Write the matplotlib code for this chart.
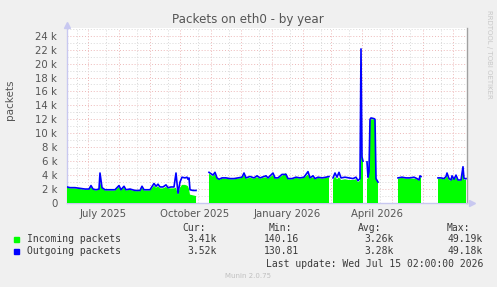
import numpy as np
import pandas as pd
import matplotlib
matplotlib.use('Agg')
from matplotlib import pyplot as plt

nan = np.nan

# days since start of the 400 day window, NaN rows mark gaps with no data
start = pd.Timestamp('2025-06-10 02:00')
end = pd.Timestamp('2026-07-15 02:00')

day = [0, 3, 8, 13, 18, 22, 24, 26, 29, 32, 33, 35, 38, 43, 48, 52, 54, 57, 59, 63,
       68, 73, 75, 77, 83, 87, 89, 91, 93, 96, 99, 101, 104, 107, 109, 111, 113, 115,
       118, 120, 121, 122, 123, 126, 129, 135,
       142, 144, 146, 148, 150, 152, 155, 159, 163, 167, 171, 175, 177, 179, 183, 187,
       190, 193, 199, 201, 206, 208, 211, 215, 219, 221, 225, 229, 233, 237, 241, 243,
       246, 248, 251, 255, 259, 262, 264,
       266, 268, 270, 272, 274, 278, 282, 286, 289, 291, 293, 294, 295, 296, 298,
       300, 301, 302, 303, 304, 307, 308, 309, 311, 320,
       331, 335, 339, 343, 347, 350, 352, 353, 354, 362,
       371, 374, 377, 379, 380, 382, 384, 385, 387, 389, 391, 394, 396, 397, 399]

outgoing = [2.3, 2.2, 2.2, 2.1, 2.0, 2.0, 2.5, 2.0, 1.9, 2.0, 4.3, 2.2, 1.9, 1.9, 1.9, 2.5,
            1.9, 2.4, 1.9, 2.0, 1.8, 1.8, 2.4, 1.9, 1.9, 2.8, 2.4, 2.7, 2.3, 2.3, 2.6, 2.2,
            2.3, 2.3, 4.3, 1.4, 3.0, 3.7, 3.6, 3.7, 3.4, 3.6, 1.9, 1.8, 1.8, nan,
            4.4, 4.2, 4.0, 4.4, 3.6, 3.4, 3.6, 3.6, 3.5, 3.5, 3.6, 3.7, 4.3, 3.6, 3.8, 3.6,
            3.9, 3.6, 3.9, 3.6, 4.3, 3.6, 3.6, 4.1, 4.1, 3.5, 3.5, 3.7, 3.6, 3.7, 4.5, 3.6,
            3.9, 3.5, 3.7, 3.6, 3.7, 3.8, nan,
            3.6, 4.3, 3.7, 4.4, 3.6, 3.7, 3.6, 3.5, 3.7, 3.2, 3.5, 22.1, 6.6, 6.0, nan,
            5.9, 3.7, 4.5, 12.0, 12.2, 12.1, 12.0, 3.5, 3.0, nan,
            3.6, 3.7, 3.6, 3.6, 3.7, 3.5, 3.3, 3.9, 3.8, nan,
            3.6, 3.6, 3.5, 3.8, 4.3, 3.5, 3.3, 3.9, 3.4, 4.0, 3.3, 3.3, 5.2, 3.5, 3.5]

incoming = [2.2, 2.1, 2.1, 2.0, 1.9, 1.9, 2.3, 1.9, 1.8, 1.9, 3.0, 2.1, 1.8, 1.8, 1.8, 2.3,
            1.8, 2.2, 1.8, 1.9, 1.7, 1.7, 2.2, 1.8, 1.8, 2.5, 2.2, 2.4, 2.1, 2.1, 2.3, 2.1,
            2.1, 2.1, 2.2, 1.2, 2.2, 2.6, 2.6, 2.5, 2.4, 2.0, 1.2, 1.1, 1.0, nan,
            4.2, 4.0, 3.8, 4.2, 3.5, 3.3, 3.5, 3.5, 3.4, 3.4, 3.5, 3.6, 4.0, 3.5, 3.6, 3.5,
            3.7, 3.5, 3.7, 3.5, 4.0, 3.5, 3.5, 3.9, 4.3, 3.4, 3.4, 3.6, 3.5, 3.6, 4.1, 3.5,
            3.7, 3.4, 3.6, 3.5, 3.6, 3.7, nan,
            3.3, 3.8, 3.4, 3.7, 3.3, 3.4, 3.3, 3.3, 3.4, 3.0, 3.2, 21.5, 6.2, 5.9, nan,
            3.5, 3.5, 4.3, 11.8, 12.0, 12.0, 11.9, 3.4, 3.0, nan,
            3.5, 3.6, 3.5, 3.5, 3.5, 3.4, 3.2, 3.7, 3.6, nan,
            3.5, 3.5, 3.4, 3.6, 3.9, 3.3, 3.2, 3.6, 3.3, 3.7, 3.2, 3.2, 4.8, 3.3, 3.4]

xlabels = ['July 2025', 'October 2025', 'January 2026', 'April 2026']
xlabel_months = ['2025-07-01', '2025-10-01', '2026-01-01', '2026-04-01']

legend_rows = [('Incoming packets', '#00FF00', ['3.41k', '140.16', '3.26k', '49.19k']),
               ('Outgoing packets', '#0000FF', ['3.52k', '130.81', '3.28k', '49.18k'])]
legend_heads = ['Cur:', 'Min:', 'Avg:', 'Max:']

W, H = 497, 287
BG = '#F0F0F0'
TXT = '#555555'
MAJ = '#EDB8B8'
MIN = '#D8D8D8'


def px(x, y):
    return x / W, 1 - y / H


def main():
    t = start + pd.to_timedelta(day, unit='D')
    inc = np.array(incoming) * 1000
    out = np.array(outgoing) * 1000

    fig = plt.figure(figsize=(W / 100, H / 100), dpi=100, facecolor=BG)
    axe = fig.add_axes([67 / W, (H - 203) / H, 400 / W, 175 / H])
    axe.set_facecolor('white')

    axe.fill_between(t, 0, inc, color='#00FF00', lw=0, zorder=3)
    axe.plot(t, out, color='#0000FF', lw=1.2, zorder=4)

    axe.set_xlim(start, end)
    axe.set_ylim(0, 25100)

    # grid: red at month starts, grey in between
    months = pd.date_range('2025-07-01', '2026-07-01', freq='MS')
    dots = (0, (1, 2))
    for m in months:
        axe.axvline(m, color=MAJ, lw=0.7, ls=dots, zorder=1)
        axe.axvline(m + pd.Timedelta(days=18), color=MIN, lw=0.7, ls=dots, zorder=1)
    axe.axvline(pd.Timestamp('2025-06-20'), color=MIN, lw=0.7, ls=dots, zorder=1)
    for v in range(1000, 25001, 1000):
        c = MAJ if v % 2000 == 0 else MIN
        axe.axhline(v, color=c, lw=0.7, ls=dots, zorder=1)

    yt = list(range(0, 24001, 2000))
    axe.set_yticks(yt)
    axe.set_yticklabels(['0'] + ['%d k' % (v // 1000) for v in yt[1:]])
    lab_pos = [pd.Timestamp(m) + pd.Timedelta(days=15) for m in xlabel_months]
    axe.set_xticks(lab_pos)
    axe.set_xticklabels(xlabels)
    axe.tick_params(length=0, labelsize=7.3, colors=TXT, pad=4)
    axe.tick_params(axis='y', pad=7)

    axe.spines['top'].set_visible(False)
    axe.spines['right'].set_color('#A0A0A0')
    axe.spines['left'].set_color('#C8C8F0')
    axe.spines['bottom'].set_color('#C8C8F0')
    for s in axe.spines.values():
        s.set_linewidth(1)
    axe.plot([0], [1.015], marker='^', ms=4, color='#C8C8F0', transform=axe.transAxes,
             clip_on=False)
    axe.plot([1.012], [0], marker='>', ms=4, color='#C8C8F0', transform=axe.transAxes,
             clip_on=False)

    fig.text(*px(248, 19), 'Packets on eth0 - by year', ha='center', va='center',
             fontsize=8.6, color=TXT)
    fig.text(*px(10, 100), 'packets', ha='center', va='center', rotation=90,
             fontsize=7.5, color=TXT)
    fig.text(*px(489, 54), 'RRDTOOL / TOBI OETIKER', ha='center', va='center',
             rotation=-90, fontsize=5, color='#C8C8C8')

    mono = dict(family='DejaVu Sans Mono', fontsize=7, color='#3A3A3A', va='center')
    for x, h in zip([182, 269, 358, 447], legend_heads):
        fig.text(*px(x, 228), h, **mono)
    for i, (name, col, vals) in enumerate(legend_rows):
        y = 239 + 12 * i
        fig.patches.append(plt.Rectangle(px(14, y + 3), 5 / W, 5 / H, color=col,
                                         transform=fig.transFigure, figure=fig))
        fig.text(*px(27, y), name, **mono)
        for x, v in zip([217, 299, 394, 483], vals):
            fig.text(*px(x, y), v, ha='right', **mono)
    fig.text(*px(483, 264), 'Last update: Wed Jul 15 02:00:00 2026', ha='right', **mono)
    fig.text(*px(248, 276), 'Munin 2.0.75', ha='center', va='center', fontsize=5,
             color='#C0C0C0')

    plt.savefig('out.png', dpi=100, facecolor=BG)


if __name__ == '__main__':
    main()
